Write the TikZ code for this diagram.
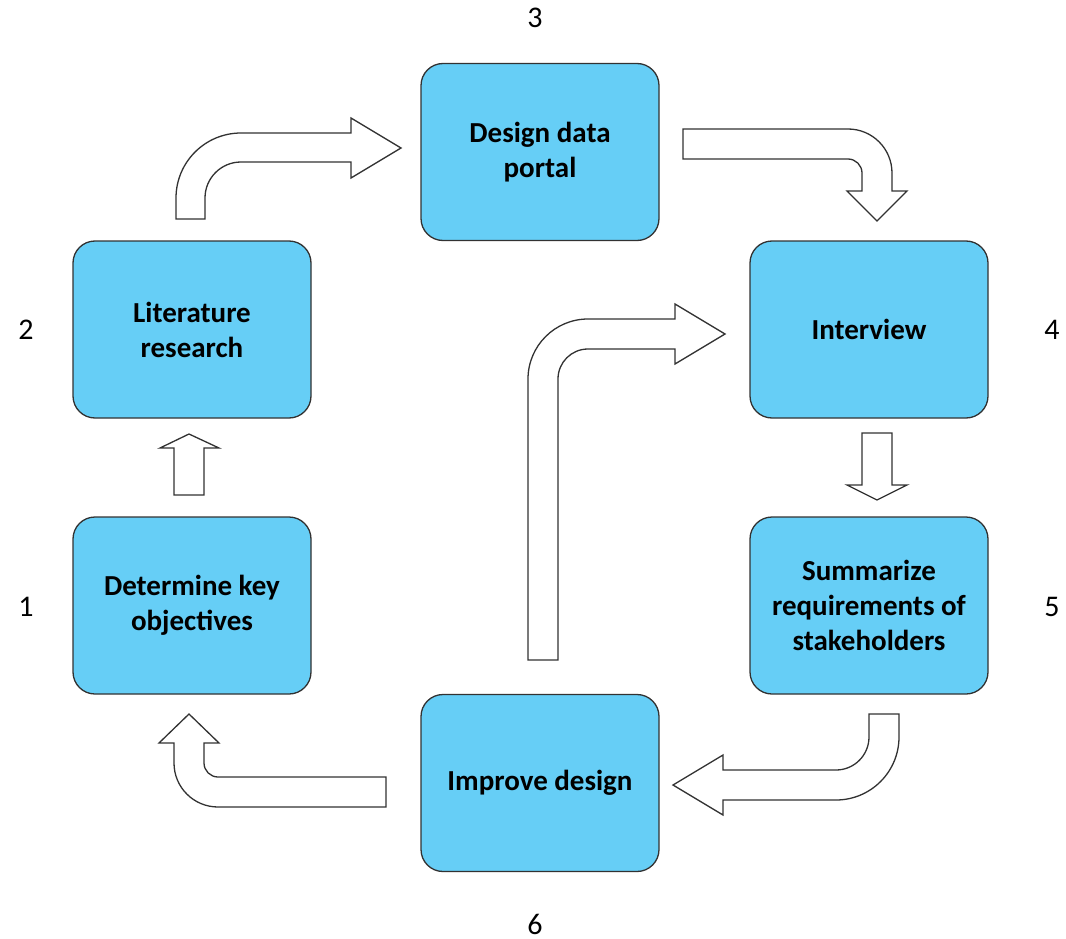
\documentclass[tikz,border=0pt]{standalone}
\usepackage{fontspec}
\setmainfont{Carlito}
\definecolor{boxblue}{RGB}{102,206,246}
\definecolor{edge}{RGB}{50,50,50}
\begin{document}
\begin{tikzpicture}[x=1pt,y=-1pt,
  stepbox/.style={draw=edge, line width=1.3pt, fill=boxblue, rounded corners=22pt,
    minimum width=238pt, minimum height=177pt, align=center, inner sep=0pt,
    font=\fontsize{29}{35}\selectfont\bfseries},
  numlabel/.style={font=\fontsize{30}{30}\selectfont, inner sep=0pt},
  barrow/.style={draw=edge, line width=1.3pt, fill=white, line join=miter}]
\useasboundingbox (0,0) rectangle (1066,939);
\node[stepbox] (b1) at (192,605.5) {Determine key\\objectives};
\node[stepbox] (b2) at (192,329.5) {Literature\\research};
\node[stepbox] (b3) at (540,152) {Design data\\portal};
\node[stepbox] (b4) at (869,329.5) {Interview};
\node[stepbox] (b5) at (869,605.5) {Summarize\\requirements of\\stakeholders};
\node[stepbox] (b6) at (540,783) {Improve design};
\node[numlabel] (n1) at (26,607) {1};
\node[numlabel] (n2) at (26,330) {2};
\node[numlabel] (n3) at (535,17.5) {3};
\node[numlabel] (n4) at (1052,330) {4};
\node[numlabel] (n5) at (1052,607) {5};
\node[numlabel] (n6) at (535,924) {6};
% 2 -> 3
\draw[barrow] (176,219) -- (176,198) .. controls (176,162.1) and (205.1,133) .. (241,133)
  -- (351,133) -- (351,118) -- (401,148) -- (351,178) -- (351,162) -- (241,162)
  .. controls (221.1,162) and (205,178.1) .. (205,198) -- (205,219) -- cycle;
% 3 -> 4
\draw[barrow] (683,129) -- (848,129) .. controls (872.3,129) and (892,148.7) .. (892,173)
  -- (892,191) -- (907,191) -- (877,221) -- (847,191) -- (862,191) -- (862,173)
  .. controls (862,165.3) and (855.7,159) .. (848,159) -- (683,159) -- cycle;
% 6 -> 4
\draw[barrow] (528,660) -- (528,379) .. controls (528,345.9) and (554.9,319) .. (588,319)
  -- (675,319) -- (675,304) -- (725,334) -- (675,364) -- (675,349) -- (588,349)
  .. controls (571.4,349) and (558,362.4) .. (558,379) -- (558,660) -- cycle;
% 6 -> 1
\draw[barrow] (386,807) -- (218,807) .. controls (193.7,807) and (174,787.3) .. (174,763)
  -- (174,743) -- (159,743) -- (189,714) -- (219,743) -- (204,743) -- (204,763)
  .. controls (204,770.7) and (210.3,777) .. (218,777) -- (386,777) -- cycle;
% 5 -> 6
\draw[barrow] (869,714) -- (899,714) -- (899,737) .. controls (899,771.8) and (870.8,800) .. (836,800)
  -- (723,800) -- (723,815) -- (673,785) -- (723,755) -- (723,770) -- (836,770)
  .. controls (854.2,770) and (869,755.2) .. (869,737) -- cycle;
% 1 -> 2
\draw[barrow] (174,495) -- (174,448) -- (160,448) -- (189,434) -- (219,448) -- (204,448) -- (204,495) -- cycle;
% 4 -> 5
\draw[barrow] (862,433) -- (892,433) -- (892,485) -- (907,485) -- (877,500) -- (847,485) -- (862,485) -- cycle;
\end{tikzpicture}
\end{document}
